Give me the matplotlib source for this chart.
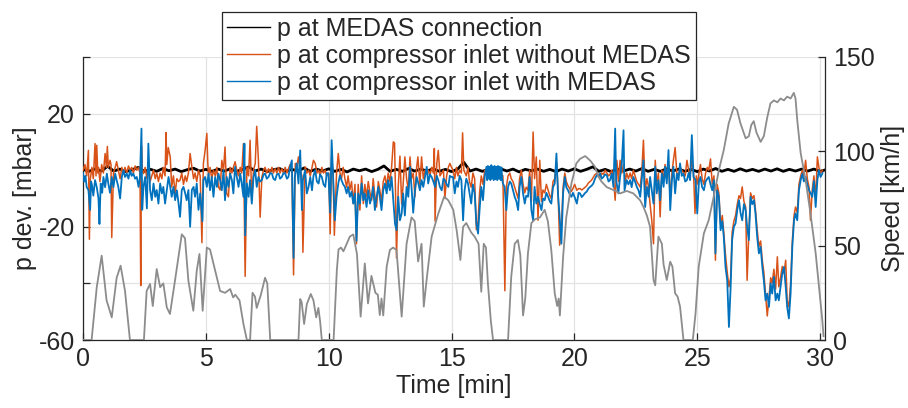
import matplotlib
matplotlib.use("Agg")
import matplotlib.pyplot as plt
from matplotlib.lines import Line2D

plt.rcParams['font.family'] = ['Liberation Sans', 'DejaVu Sans']

# ---------------- data ----------------
# vehicle speed [km/h] (time [min], speed)
speed = [(0, 0), (0.35, 0), (0.56, 28), (0.76, 44.7), (0.96, 21), (1.17, 12), (1.37, 33), (1.53, 39.4), (1.71, 26),
         (1.91, 0), (2.48, 0), (2.59, 26), (2.73, 29.7), (2.84, 18), (3.0, 37.6), (3.14, 28), (3.27, 30), (3.41, 17.3),
         (3.54, 13.8), (3.75, 32), (4.02, 56), (4.15, 54), (4.29, 31.4), (4.49, 15.5), (4.63, 36.7), (4.74, 45.6),
         (4.87, 15.5), (5.04, 49), (5.17, 48), (5.38, 36.7), (5.58, 26), (5.78, 25), (5.99, 27), (6.11, 22.6), (6.2, 24),
         (6.37, 21), (6.53, 8.5), (6.67, 0), (6.8, 0), (6.9, 25), (7.0, 23), (7.07, 17), (7.24, 24), (7.41, 33),
         (7.5, 30), (7.62, 0), (8.77, 0), (8.84, 21.7), (8.9, 20), (9.0, 8.5), (9.11, 19), (9.27, 24.4), (9.38, 21),
         (9.49, 12), (9.58, 17), (9.65, 10), (9.72, 0), (10.2, 0), (10.33, 36.7), (10.4, 48), (10.5, 49), (10.6, 47),
         (10.86, 54.8), (11.0, 56), (11.15, 45.6), (11.3, 12.4), (11.47, 40.6), (11.6, 19.4), (11.74, 34), (11.9, 25),
         (12.0, 24), (12.08, 13.2), (12.15, 22), (12.22, 13), (12.36, 38.9), (12.49, 47.7), (12.62, 49), (12.76, 47.7),
         (12.97, 12.4), (13.17, 51), (13.37, 65), (13.5, 63), (13.64, 41.6), (13.78, 51), (13.87, 17.7), (14.0, 33.6),
         (14.19, 54.8), (14.46, 67), (14.7, 76), (14.87, 74), (15.07, 69), (15.21, 58), (15.36, 42.4), (15.47, 60),
         (15.6, 62), (15.8, 57), (15.94, 54.8), (16.1, 51), (16.21, 25.6), (16.31, 51), (16.4, 49), (16.48, 30),
         (16.6, 10), (16.69, 0), (17.3, 0), (17.43, 33.6), (17.57, 51), (17.7, 53), (17.8, 45), (17.91, 13), (18.0, 22),
         (18.11, 46), (18.25, 62), (18.4, 64), (18.6, 65), (18.79, 69), (18.92, 63), (19.06, 47.7), (19.2, 24.7),
         (19.3, 18), (19.36, 22), (19.41, 13), (19.54, 44), (19.67, 65), (19.88, 83), (20.08, 93.6), (20.23, 96),
         (20.44, 97.5), (20.65, 95), (20.84, 91.8), (20.98, 86.5), (21.1, 84), (21.32, 81), (21.59, 79.5),
         (21.86, 77.7), (22.13, 79), (22.4, 77.7), (22.68, 74), (22.81, 70.6), (22.95, 66), (23.08, 60), (23.22, 31.8),
         (23.29, 29), (23.42, 54.8), (23.56, 51), (23.63, 40), (23.76, 31.8), (23.9, 41.5), (23.99, 38.9),
         (24.1, 24.7), (24.2, 23), (24.3, 17.7), (24.44, 0), (24.82, 0), (24.93, 14), (25.06, 38.9), (25.27, 56.5),
         (25.47, 63.6), (25.67, 76), (25.88, 90), (26.08, 100.7), (26.28, 114.8), (26.49, 123.6), (26.62, 122),
         (26.76, 114.8), (26.97, 106.9), (27.1, 108), (27.2, 114), (27.3, 116), (27.41, 110), (27.58, 105),
         (27.71, 108), (27.85, 118), (27.98, 125.4), (28.12, 127), (28.26, 126), (28.39, 128), (28.53, 127),
         (28.66, 129), (28.8, 128), (28.93, 131), (29.0, 128), (29.07, 116.6), (29.21, 99), (29.41, 84.8),
         (29.61, 67), (29.82, 46), (29.98, 25), (30.09, 10.6), (30.14, 2)]

# p at MEDAS connection [mbar], sampled every 0.25 min
black_dt = 0.25
black_v = [0.3, -0.4, 0.5, -0.3, 1.4, -0.3, 0.4, -0.5, 0.2, 1.0, -0.4, 0.3, -0.4, 0.6, -0.2, 0.4, -0.5, 0.2, 0.7, -0.3,
           0.3, -0.4, 0.4, -0.3, 0.5, -0.4, 0.3, 1.2, -0.3, 0.4, -0.5, 0.2, 0.6, -0.4, 0.3, -0.3, 0.8, -0.4, 0.4, -0.3,
           0.5, -0.4, 0.3, -0.6, 0.4, -0.2, 0.4, -0.5, 0.3, 1.5, -0.4, 0.3, -0.4, 0.6, -0.3, 0.4, -0.3, 0.5, -0.4,
           0.3, -0.5, 0.4, 2.8, -0.3, 0.4, -0.4, 0.3, -0.4, 0.5, -0.3, 0.4, -0.6, 0.3, -0.2, 0.4, -0.4, 0.3, -0.5,
           0.4, -0.3, 0.5, -0.4, 0.3, 1.2, -0.4, 0.3, -0.5, 0.4, -0.3, 0.4, -0.3, 0.6, -0.4, 0.3, -0.4, 0.5, -0.3,
           0.4, -0.4, 0.3, -0.5, 0.4, -0.3, 0.6, -0.4, 0.3, -0.4, 0.5, -0.3, 0.3, -0.4, 0.4, -0.3, 0.5, -0.4, 0.3,
           -0.3, 0.4, -0.3, 0.4, -0.4, 0.2]

# p at compressor inlet without MEDAS (time [min], p [mbar])
orange_a = [(0.0, 0), (0.08, 2), (0.15, -2), (0.22, 7), (0.26, -24.4), (0.3, -3), (0.36, 1), (0.42, -3), (0.49, 9.4),
            (0.53, -2), (0.56, 8.8), (0.6, -1), (0.63, 1), (0.69, -4), (0.76, 2), (0.83, -1), (0.9, 5.9), (0.95, 1),
            (0.99, 8.4), (1.03, 1), (1.1, 3.5), (1.14, 2), (1.17, -23.8), (1.24, -1), (1.31, 1), (1.37, 3), (1.44, 0),
            (1.51, -3), (1.58, 1), (1.65, -1), (1.71, 1), (1.78, -1), (1.85, 1.5), (1.92, 0), (1.98, 1), (2.05, -1),
            (2.12, 1.5), (2.19, 0), (2.26, 1), (2.32, -1), (2.35, -40.8), (2.38, 8.5), (2.41, 0), (2.46, -1.2),
            (2.53, 1), (2.6, -3), (2.66, 2), (2.73, -4), (2.8, -2), (2.87, 0), (2.94, -3), (3.0, -1), (3.07, -4),
            (3.14, -1), (3.21, -3), (3.27, 1), (3.34, -2), (3.38, 13.3), (3.41, 2), (3.47, 8), (3.55, 4.7),
            (3.61, -5.9), (3.68, -2), (3.75, -8.2), (3.82, -3), (3.89, -4), (3.95, -3.5), (4.02, -1), (4.09, -5),
            (4.16, -2), (4.22, -4), (4.29, -1), (4.36, 5.9), (4.43, 1.2), (4.5, -3), (4.56, -1), (4.63, -4), (4.7, 0),
            (4.77, -2), (4.84, -25.6), (4.9, 2.4), (4.97, 7)]
orange_b = [(5.04, 13), (5.08, 2.4), (5.11, -2), (5.17, 1), (5.24, -3), (5.31, 0), (5.38, -2), (5.45, 1), (5.51, -5.9),
            (5.58, -7), (5.65, 3.5), (5.72, 0), (5.78, 8.2), (5.85, -8.2), (5.92, -9.4), (5.99, 1), (6.06, -1),
            (6.12, 1), (6.19, 3), (6.26, 0), (6.33, -2), (6.4, 1), (6.46, -1), (6.53, 9.4), (6.6, -37.5), (6.67, 1.2),
            (6.74, -2), (6.8, 10.6), (6.87, -10.6), (6.94, 0), (7.01, 2.4), (7.07, 15.5), (7.14, 3.5), (7.21, -16.6),
            (7.28, -2.4), (7.35, 0), (7.41, 1), (7.48, -1), (7.55, 0.5), (7.62, -1), (7.69, 1), (7.75, -1),
            (7.82, 0.5), (7.89, -1), (7.96, 1), (8.02, -1), (8.09, 0.5), (8.16, -1), (8.23, 1), (8.3, -1), (8.36, 0.5),
            (8.43, 2), (8.5, 0), (8.57, -37), (8.64, 2.4), (8.7, 1), (8.77, 4.7), (8.84, 0), (8.91, -2), (8.95, -29),
            (9.04, 1.2), (9.11, -1), (9.18, 0), (9.25, -2), (9.32, 1), (9.38, 3.5), (9.45, 2.4), (9.52, -1),
            (9.59, 0), (9.65, -2), (9.72, 1), (9.79, -1), (9.86, 0), (9.92, -2), (10.0, -1)]
orange_c = [(10.06, -22.5), (10.12, 5), (10.18, -1), (10.23, -23), (10.32, -1), (10.39, 5.9), (10.46, -1),
            (10.52, -3), (10.59, 1), (10.66, -3), (10.73, -6), (10.79, -2), (10.86, -7), (10.93, -4), (11.0, -11.8),
            (11.07, -5), (11.13, -26), (11.2, -5), (11.27, -14.1), (11.34, -2), (11.41, -11.8), (11.47, -5),
            (11.54, -9.4), (11.61, -4), (11.68, -8), (11.75, -10.6), (11.81, -3), (11.88, -9), (11.95, -13),
            (12.02, -4), (12.08, -7), (12.15, -11), (12.22, -4), (12.29, -2), (12.36, -6), (12.42, -1), (12.49, -4),
            (12.56, 1), (12.63, 10), (12.68, 9.6), (12.72, -8), (12.76, -31), (12.83, -6), (12.9, 5), (12.97, -12),
            (13.03, -5), (13.1, 4.7), (13.17, -3), (13.24, -7), (13.31, 4.7), (13.37, -3), (13.44, -1), (13.51, -9.4),
            (13.58, 1), (13.63, 4.7), (13.71, -5), (13.78, 4.7), (13.85, -3), (13.92, 0), (13.99, -1), (14.05, 0),
            (14.12, -2), (14.19, 1), (14.26, -1), (14.3, 7.7), (14.33, -18), (14.4, 2.4), (14.46, 7), (14.53, -2),
            (14.6, -1), (14.67, 0), (14.73, -10), (14.8, -2), (14.87, 1), (14.93, 2.4), (15.0, 1)]
orange_d = [(15.06, 0), (15.13, -3), (15.2, 1), (15.26, -2), (15.33, 0), (15.4, -1), (15.45, 13.2), (15.5, 0),
            (15.6, -2), (15.67, 1), (15.73, -4), (15.8, -6), (15.87, -1), (15.94, -3), (16.01, -21), (16.08, -18),
            (16.14, -8), (16.21, -2), (16.28, -5), (16.35, 0), (16.5, 0), (16.6, -1), (16.7, 0.5), (16.8, -1),
            (16.9, 0.5), (17.0, -1), (17.09, -2), (17.17, -42.6), (17.23, -6), (17.3, -2), (17.37, -1), (17.43, -3),
            (17.5, -4), (17.57, -6), (17.64, -8), (17.71, -10), (17.77, -3), (17.84, 0), (17.91, -5), (17.98, -8),
            (18.04, -6), (18.11, -7), (18.18, 0), (18.25, -11), (18.32, 13.5), (18.38, -3), (18.45, 4.7),
            (18.52, -17.7), (18.59, 3.5), (18.66, -11), (18.72, -7), (18.79, -8), (18.86, -5), (18.93, -7), (19.0, -9),
            (19.06, -10), (19.13, -4), (19.2, -3), (19.27, 3), (19.33, -6), (19.4, -26.5), (19.47, -20), (19.54, -6),
            (19.61, -1), (19.67, -4), (19.74, -5.5), (19.81, -6.5), (19.88, -7.5), (19.94, -6.5)]
orange_e = [(20.01, -5), (20.1, -7.1), (20.17, -6.5), (20.23, -6.5), (20.3, -7), (20.37, -6.5), (20.44, -6),
            (20.5, -5.5), (20.57, -4.5), (20.64, -4), (20.7, -3.5), (20.77, -2.5), (20.84, -1.5), (20.91, -1.2),
            (20.98, -1.5), (21.05, -2.4), (21.11, -1), (21.18, -1.5), (21.25, 0), (21.32, -1), (21.39, -2),
            (21.45, -1.5), (21.52, 0), (21.59, -3), (21.66, -10.6), (21.73, 3.5), (21.79, -4), (21.86, 3.5),
            (21.93, -1), (22.0, 2), (22.07, -4), (22.13, -1), (22.2, -3), (22.27, -1), (22.33, -3), (22.4, 0),
            (22.47, -2), (22.54, -4), (22.61, -5), (22.68, -6), (22.74, -1), (22.81, 10.6), (22.88, -7.1), (22.95, -3),
            (23.02, -6), (23.08, -12), (23.15, -17.7), (23.22, -26), (23.29, 3.5), (23.35, -5), (23.42, -1),
            (23.49, -16.5), (23.56, 0), (23.63, -3), (23.69, 2), (23.76, -2), (23.83, 3), (23.9, -10), (23.97, -1),
            (24.03, 3.5), (24.1, 8), (24.17, -1), (24.24, -2), (24.3, 1), (24.37, 0), (24.44, -1), (24.51, -2),
            (24.58, 3.5), (24.65, 0), (24.71, -2), (24.78, 3.5), (24.85, -1)]
orange_f = [(24.91, -15.3), (24.96, -2), (25.03, -5), (25.07, -1), (25.13, 2), (25.2, -3), (25.27, -5), (25.34, -1),
            (25.41, 1), (25.47, 0), (25.54, 4), (25.61, -5), (25.68, -2), (25.74, -31.8), (25.81, -5), (25.88, -8),
            (25.95, -19), (26.02, -16), (26.08, -22), (26.15, -30), (26.22, -36), (26.29, -41.2), (26.36, -38),
            (26.42, -22), (26.49, -18), (26.56, -16), (26.63, -12), (26.7, -9), (26.76, -10), (26.83, -5.9),
            (26.9, -11), (26.97, -13), (27.03, -38.9), (27.1, -22), (27.17, -8), (27.24, -10), (27.31, -9),
            (27.37, -14), (27.44, -21), (27.51, -27), (27.58, -25), (27.65, -32), (27.71, -36), (27.78, -44),
            (27.85, -51.5), (27.92, -45), (27.99, -38), (28.05, -40), (28.12, -35), (28.19, -42), (28.26, -30.6),
            (28.32, -41.2), (28.39, -38), (28.46, -34), (28.53, -36.5), (28.6, -31.8), (28.66, -46), (28.73, -48.3),
            (28.8, -40), (28.87, -25), (28.94, -16), (29.0, -13), (29.07, -15), (29.14, -5), (29.21, -2), (29.28, 0),
            (29.34, -2), (29.41, 3.5), (29.48, -3), (29.55, -6), (29.61, -17.7), (29.68, -7), (29.75, -2),
            (29.82, -10), (29.89, 4.7), (29.95, 1), (30.02, -1), (30.1, 0)]

# p at compressor inlet with MEDAS (time [min], p [mbar])
blue_a = [(0.0, -1), (0.05, -4), (0.1, -2), (0.15, -6), (0.22, -7), (0.29, -14), (0.33, -4), (0.36, -5), (0.42, -9),
          (0.49, -3.5), (0.56, -6), (0.63, -10), (0.67, -19), (0.72, -4.7), (0.78, -8), (0.83, -2.4), (0.9, -6),
          (0.97, -1.2), (1.03, -4.7), (1.1, -8), (1.17, -2.4), (1.24, -6), (1.31, -1.2), (1.37, -3.5), (1.44, -6),
          (1.51, -10), (1.58, -2.4), (1.65, 0), (1.71, -2.4), (1.78, -1.2), (1.85, -3), (1.92, 0), (1.98, -2),
          (2.05, -1.2), (2.12, -3), (2.19, -2.4), (2.26, -5.9), (2.32, -2.4), (2.38, 14.7), (2.41, -14), (2.46, -5.9),
          (2.53, -2.4), (2.6, -13.5), (2.66, 9.4), (2.73, -7), (2.8, -10.6), (2.87, -4.7), (2.94, -9.4), (3.0, -7),
          (3.07, -11.8), (3.14, -4.7), (3.21, -8.2), (3.27, -5.9), (3.34, -11.8), (3.41, -7), (3.48, -2.4),
          (3.55, -5.9), (3.61, -9.4), (3.68, -5.9), (3.75, -10.6), (3.82, -7.1), (3.89, -11.8), (3.95, -16.5),
          (4.02, -7), (4.09, -5.9), (4.16, -8.2), (4.22, -10.6), (4.29, -7), (4.36, -20), (4.43, -7), (4.5, -5.9),
          (4.56, -9.4), (4.63, -4.7), (4.7, -14), (4.77, -8.2), (4.86, -18), (4.9, -3.5), (4.97, -2.4)]
blue_b = [(5.04, -5.9), (5.11, -1.2), (5.17, -7.1), (5.24, -2.4), (5.31, -9.4), (5.38, -2.4), (5.45, -5.9),
          (5.51, -1.2), (5.58, -3.5), (5.65, -7.1), (5.72, 0), (5.78, -10.6), (5.85, -2.4), (5.92, -5.9), (5.99, -1.2),
          (6.06, -3.5), (6.12, -8.2), (6.19, 1.2), (6.26, -2.4), (6.33, -5.9), (6.4, -1.2), (6.46, -4.7), (6.53, -9.4),
          (6.57, 9.4), (6.6, -23), (6.67, -4.7), (6.74, -9.4), (6.8, -3.5), (6.87, -11.8), (6.94, -2.4), (7.01, 0),
          (7.07, -5.9), (7.14, -2.4), (7.21, -4), (7.28, -3.5), (7.35, -1.5), (7.41, -1.2), (7.48, -3), (7.55, -2.4),
          (7.62, -1), (7.69, -1.2), (7.75, -3), (7.82, -3.5), (7.89, -1.5), (7.96, -1.2), (8.02, -3), (8.09, -2.4),
          (8.16, -1), (8.23, -1.2), (8.3, -3), (8.36, -2.4), (8.43, 1.2), (8.5, 3.5), (8.57, -31), (8.62, -2.4),
          (8.7, 2.4), (8.77, -4.7), (8.84, 7), (8.91, -14.1), (8.95, -3.5), (9.04, 0), (9.11, -8.2), (9.18, -5.9),
          (9.25, -2.4), (9.32, -7.1), (9.38, -2), (9.45, 0), (9.52, -4), (9.59, -4.7), (9.65, -1.5), (9.72, -2.4),
          (9.79, -5), (9.86, -5.9), (9.92, -1), (9.99, -1.2)]
blue_c = [(10.06, -15), (10.12, 10.6), (10.18, -2.4), (10.25, -17.7), (10.32, -9.4), (10.39, -4.7), (10.46, -1.8),
          (10.52, -3.5), (10.59, -5), (10.66, -5.9), (10.73, -8.2), (10.79, -5.9), (10.86, -9.4), (10.93, -7.6),
          (11.0, -11.8), (11.07, -8.2), (11.13, -25), (11.2, -8.2), (11.27, -11.8), (11.34, -4.7), (11.41, -10.6),
          (11.47, -8.2), (11.54, -13), (11.61, -7.1), (11.68, -11.8), (11.75, -9.4), (11.81, -5.9), (11.88, -14.1),
          (11.95, -9.4), (12.02, -5.9), (12.08, -9.4), (12.15, -14.1), (12.22, -7.1), (12.29, -4.7), (12.36, -8.2),
          (12.42, -3.5), (12.49, -7.1), (12.56, -2.4), (12.63, -10.6), (12.7, -19), (12.76, -21.2), (12.83, -9.4),
          (12.9, -17.7), (12.97, -15.3), (13.03, -8.2), (13.1, -16), (13.17, -5.9), (13.24, -9.4), (13.31, 1.2),
          (13.37, -5.9), (13.44, -15), (13.51, -7.1), (13.58, -2.4), (13.65, -4.7), (13.71, -7.1), (13.78, -3.5),
          (13.85, -5.9), (13.92, -2.4), (13.99, 1.2), (14.05, -4.7), (14.12, -1.5), (14.19, -2.4), (14.26, -4),
          (14.33, -5.9), (14.4, -2), (14.46, -3.5), (14.53, -6), (14.6, -7.1), (14.67, -3), (14.73, -3.5),
          (14.8, -5), (14.87, -5.9), (14.93, -2), (15.0, -2.4)]
blue_d = [(15.06, -2.4), (15.13, -8.2), (15.2, -4), (15.26, -5.9), (15.33, -2), (15.4, -3.5), (15.47, -17.7),
          (15.53, -7.1), (15.6, -3), (15.67, -4.7), (15.73, -8), (15.8, -11.8), (15.87, -5), (15.94, -8.2),
          (16.01, -18.8), (16.08, -22.4), (16.14, -14.1), (16.21, -5.9), (16.28, -10.6), (16.35, -2.4), (16.42, 1.2),
          (16.45, -3.5), (16.48, 1.5), (16.52, -3), (16.55, 1.2), (16.58, -3.5), (16.62, 1.8), (16.65, -3),
          (16.69, 1.2), (16.72, -3.5), (16.75, 1.5), (16.79, -3.2), (16.82, 1.2), (16.86, -3.5), (16.89, 1.5),
          (16.93, -3), (16.96, 1.2), (17.0, -3.5), (17.03, 1), (17.06, -3), (17.09, -4.7), (17.16, -5.9),
          (17.23, -14.1), (17.3, -5.9), (17.37, -4), (17.43, -4.7), (17.5, -7), (17.57, -9.4), (17.64, -11),
          (17.71, -14.1), (17.77, -5.9), (17.84, -2.4), (17.91, -8.2), (17.98, -11.8), (18.04, -9), (18.11, -9.4),
          (18.18, -2.4), (18.25, -14.1), (18.32, -17.7), (18.38, -5.9), (18.45, -11.8), (18.52, -9.4), (18.59, -12),
          (18.66, -14.1), (18.72, -10), (18.79, -10.6), (18.86, -8), (18.93, -9.4), (19.0, -11), (19.06, -11.8),
          (19.13, -6), (19.2, -4.7), (19.27, 5.9), (19.33, -8.2), (19.4, -16.5), (19.47, -26), (19.54, -8.2),
          (19.61, -2.4), (19.67, -6), (19.74, -7.1), (19.81, -8.5), (19.88, -9.4), (19.94, -8)]
blue_e = [(20.01, -9.5), (20.1, -11.8), (20.17, -8), (20.23, -8.2), (20.3, -9.5), (20.37, -8.8), (20.44, -8),
          (20.5, -7.6), (20.57, -6.5), (20.64, -5.9), (20.7, -5.5), (20.77, -4.7), (20.84, -3), (20.91, -1.8),
          (20.98, -2), (21.05, -1.2), (21.11, -3), (21.18, -2.4), (21.25, -1.5), (21.32, -1.8), (21.39, -4),
          (21.45, -3.5), (21.52, -1.2), (21.59, -5.9), (21.66, 14.7), (21.7, -3.5), (21.79, -8.2), (21.86, -2.4),
          (21.93, 2.4), (22.0, 14.1), (22.04, -7.1), (22.13, -3.5), (22.2, -5), (22.27, -3.5), (22.33, -6),
          (22.4, -2.4), (22.47, -4), (22.54, -5.9), (22.61, -7.1), (22.68, -9.4), (22.74, -3.5), (22.81, 3.5),
          (22.88, -13), (22.95, -5.9), (23.02, -9.4), (23.08, -2.4), (23.15, -7.1), (23.22, -11.8), (23.29, 1.2),
          (23.35, -8.2), (23.42, -3.5), (23.49, -10.6), (23.56, -1.2), (23.63, -5.9), (23.69, 1.2), (23.76, -4.7),
          (23.83, 7.1), (23.9, -14.1), (23.97, -3.5), (24.03, 1.2), (24.1, -8.2), (24.17, -1.2), (24.24, -3.5),
          (24.3, 2.4), (24.37, -2), (24.44, -1.2), (24.51, -4), (24.58, -3.5), (24.65, -1), (24.71, -3.5),
          (24.78, 12.4), (24.85, -2.4)]
blue_f = [(24.93, -3.5), (25.0, -15.3), (25.07, -4), (25.13, -2.4), (25.2, -6), (25.27, -7.1), (25.34, -4),
          (25.41, -3), (25.47, -2.4), (25.54, -5), (25.61, -7.1), (25.68, -3.5), (25.74, -29.4), (25.81, -7.1),
          (25.88, -9.4), (25.95, -21.2), (26.02, -18), (26.08, -23.6), (26.15, -34.2), (26.22, -38.9), (26.29, -55.4),
          (26.36, -41.2), (26.42, -24.7), (26.49, -20), (26.56, -18.8), (26.63, -14), (26.7, -10.6), (26.76, -15),
          (26.83, -17.7), (26.9, -12), (26.97, -14.1), (27.03, -20), (27.1, -24.7), (27.17, -9.4), (27.24, -12),
          (27.31, -10.6), (27.37, -15.3), (27.44, -23.6), (27.51, -29.4), (27.58, -27.1), (27.65, -34.2),
          (27.71, -38.9), (27.78, -46), (27.85, -43.6), (27.92, -48.3), (27.99, -40), (28.05, -43.6), (28.12, -37.7),
          (28.19, -46), (28.26, -43.6), (28.32, -46), (28.39, -41.2), (28.46, -36.5), (28.53, -34.2), (28.6, -41.2),
          (28.66, -48.3), (28.73, -52.4), (28.8, -43.6), (28.87, -27.1), (28.94, -17.7), (29.0, -15.3),
          (29.07, -17.7), (29.14, -7.1), (29.21, -3.5), (29.28, -1.2), (29.34, -4), (29.41, -2.4), (29.48, -5),
          (29.55, -7.1), (29.61, -8), (29.68, -9.4), (29.75, -3.8), (29.82, -13), (29.89, -3.5), (29.95, 0),
          (30.02, -2.4), (30.1, -1)]

labels = ["p at MEDAS connection", "p at compressor inlet without MEDAS", "p at compressor inlet with MEDAS"]
xticks = [0, 5, 10, 15, 20, 25, 30]
yticks_left = [-60, -40, -20, 0, 20, 40]
yticklabels_left = ["-60", "", "-20", "", "20", ""]
yticks_right = [0, 50, 100, 150]

# ---------------- plot ----------------
C_BLACK = "#000000"
C_ORANGE = "#D95319"
C_BLUE = "#0072BD"
C_GRAY = "#8c8c8c"
C_AX = "#262626"
FS = 18

def unzip(*segs):
    pts = [p for s in segs for p in s]
    return [p[0] for p in pts], [p[1] for p in pts]

fig = plt.figure(figsize=(9.08, 4.08), dpi=100)
ax = fig.add_axes([83 / 908, 68 / 408, 742 / 908, 283 / 408])
ax2 = ax.twinx()

bt = [i * black_dt for i in range(len(black_v))]
ot, ov = unzip(orange_a, orange_b, orange_c, orange_d, orange_e, orange_f)
blt, blv = unzip(blue_a, blue_b, blue_c, blue_d, blue_e, blue_f)
st, sv = unzip(speed)

ax.plot(bt, black_v, color=C_BLACK, lw=2.0, zorder=3)
ax.plot(ot, ov, color=C_ORANGE, lw=1.1, zorder=4)
ax.plot(blt, blv, color=C_BLUE, lw=1.3, zorder=5)
ax2.plot(st, sv, color=C_GRAY, lw=1.3)

ax.set_xlim(0, 30.2)
ax.set_ylim(-60, 40)
ax2.set_ylim(0, 150)

ax.set_xticks(xticks)
ax.set_yticks(yticks_left)
ax.set_yticklabels(yticklabels_left)
ax2.set_yticks(yticks_right)

ax.grid(True, color="#e3e3e3", lw=0.9)
ax.set_axisbelow(True)

for a in (ax, ax2):
    a.spines["top"].set_visible(False)
    for s in a.spines.values():
        s.set_color(C_AX)
        s.set_linewidth(0.9)
ax.spines["right"].set_visible(False)
ax2.spines["left"].set_visible(False)
ax2.spines["bottom"].set_visible(False)

ax.tick_params(axis="both", direction="in", length=5, width=0.9, color=C_AX, labelcolor=C_AX, labelsize=FS)
ax.tick_params(axis="x", pad=5)
ax.tick_params(axis="y", pad=6)
ax2.tick_params(axis="y", direction="in", length=5, width=0.9, color=C_AX, labelcolor=C_AX, labelsize=FS, pad=6)

ax.set_xlabel("Time [min]", fontsize=FS, color=C_AX, labelpad=2)
ax.set_ylabel("p dev. [mbar]", fontsize=FS, color=C_AX, labelpad=1)
ax2.set_ylabel("Speed [km/h]", fontsize=FS, color=C_AX, labelpad=4)

handles = [Line2D([], [], color=C_BLACK, lw=1.0), Line2D([], [], color=C_ORANGE, lw=1.0),
           Line2D([], [], color=C_BLUE, lw=1.0)]
leg = fig.legend(handles, labels, loc="upper center", bbox_to_anchor=(459 / 908, 0.9706), fontsize=FS,
                 frameon=True, fancybox=False, framealpha=1, edgecolor=C_AX, handlelength=1.7,
                 handletextpad=0.3, labelspacing=0.12, borderpad=0.2, borderaxespad=0)
leg.get_frame().set_linewidth(0.9)
for t in leg.get_texts():
    t.set_color(C_AX)

fig.savefig("out.png", dpi=100)
